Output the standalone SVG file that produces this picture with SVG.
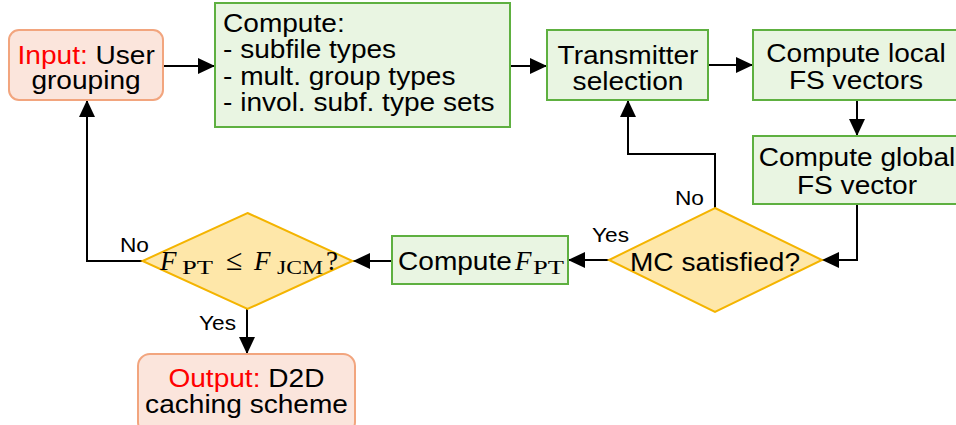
<svg xmlns="http://www.w3.org/2000/svg" width="956" height="425" viewBox="0 0 956 425">
<style>
.t{font-family:"Liberation Sans",Arial,sans-serif;font-size:26px;fill:#000}
.c{text-anchor:middle}
.lbl{font-family:"Liberation Sans",Arial,sans-serif;font-size:21px;fill:#000}
.io{fill:#fbe5dc;stroke:#f2a57e;stroke-width:2}
.pr{fill:#e9f5e2;stroke:#5eb040;stroke-width:2}
.dc{fill:#fee7a9;stroke:#f4b400;stroke-width:2}
.m{font-family:"Liberation Serif","Times New Roman",serif;fill:#000}
.red{fill:#ff0000}
.conn path{fill:none;stroke:#000;stroke-width:2}
</style>
<defs>
<marker id="ah" markerUnits="userSpaceOnUse" markerWidth="17" markerHeight="16" refX="17" refY="8" orient="auto">
<path d="M0,0 L17,8 L0,16 z" fill="#000"/>
</marker>
</defs>
<rect width="956" height="425" fill="#fff"/>
<g id="connectors" class="conn">
<path d="M163,66 H215" marker-end="url(#ah)"/>
<path d="M510,66 H547" marker-end="url(#ah)"/>
<path d="M708,65 H753" marker-end="url(#ah)"/>
<path d="M857,100 V136" marker-end="url(#ah)"/>
<path d="M857,204 V260 H822" marker-end="url(#ah)"/>
<path d="M715,208 V154 H628 V100" marker-end="url(#ah)"/>
<path d="M609,260 H568" marker-end="url(#ah)"/>
<path d="M392,261 H353" marker-end="url(#ah)"/>
<path d="M143,261 H87 V100" marker-end="url(#ah)"/>
<path d="M247,309 V354" marker-end="url(#ah)"/>
</g>
<g id="labels">
<text class="lbl" transform="translate(675,205) scale(1.08,1)">No</text>
<text class="lbl" transform="translate(592,242) scale(1.08,1)">Yes</text>
<text class="lbl" transform="translate(120,252) scale(1.08,1)">No</text>
<text class="lbl" transform="translate(199,330) scale(1.08,1)">Yes</text>
</g>
<g id="input">
<rect class="io" x="9" y="30" width="154" height="70" rx="10"/>
<text class="t red" transform="translate(17.5,64) scale(1.08,1)">Input:</text>
<text class="t" transform="translate(95.5,64) scale(1.08,1)">User</text>
<text class="t c" transform="translate(86,89) scale(1.08,1)">grouping</text>
</g>
<g id="compute">
<rect class="pr" x="215" y="3" width="295" height="124"/>
<text class="t" transform="translate(223,0) scale(1.08,1)"><tspan x="0" y="32">Compute:</tspan><tspan x="0" y="58">- subfile types</tspan><tspan x="0" y="85">- mult. group types</tspan><tspan x="0" y="111">- invol. subf. type sets</tspan></text>
</g>
<g id="transmitter">
<rect class="pr" x="547" y="30" width="161" height="70"/>
<text class="t c" transform="translate(628,0) scale(1.08,1)"><tspan x="0" y="64">Transmitter</tspan><tspan x="0" y="90">selection</tspan></text>
</g>
<g id="local">
<rect class="pr" x="753" y="30" width="210" height="70"/>
<text class="t c" transform="translate(856,0) scale(1.08,1)"><tspan x="0" y="62">Compute local</tspan><tspan x="0" y="89">FS vectors</tspan></text>
</g>
<g id="global">
<rect class="pr" x="753" y="136" width="210" height="68"/>
<text class="t c" transform="translate(857,0) scale(1.08,1)"><tspan x="0" y="166">Compute global</tspan><tspan x="0" y="194">FS vector</tspan></text>
</g>
<g id="mc">
<polygon class="dc" points="715,208 822,260 715,312 609,260"/>
<text class="t c" transform="translate(715,271) scale(1.08,1)">MC satisfied?</text>
</g>
<g id="computefpt">
<rect class="pr" x="392" y="236" width="176" height="48"/>
<text class="t" transform="translate(398,270) scale(1.08,1)">Compute</text>
<text class="m" x="515" y="270" font-size="27" font-style="italic">F</text>
<text class="m" x="533" y="274" font-size="19" textLength="31" lengthAdjust="spacingAndGlyphs">PT</text>
</g>
<g id="decision">
<polygon class="dc" points="247.5,213 352.5,261 247.5,309 142.5,261"/>
<text class="m" x="160" y="270" font-size="27" font-style="italic">F</text>
<text class="m" x="182" y="274" font-size="19" textLength="31" lengthAdjust="spacingAndGlyphs">PT</text>
<text class="m" x="226" y="270" font-size="30">≤</text>
<text class="m" x="254" y="270" font-size="27" font-style="italic">F</text>
<text class="m" x="277" y="274" font-size="19" textLength="46" lengthAdjust="spacingAndGlyphs">JCM</text>
<text class="m" x="326" y="270" font-size="27">?</text>
</g>
<g id="output">
<rect class="io" x="138" y="354" width="217" height="80" rx="12"/>
<text class="t red" transform="translate(168.4,387) scale(1.08,1)">Output:</text>
<text class="t" transform="translate(268.3,387) scale(1.08,1)">D2D</text>
<text class="t c" transform="translate(246.5,413) scale(1.08,1)">caching scheme</text>
</g>
</svg>
